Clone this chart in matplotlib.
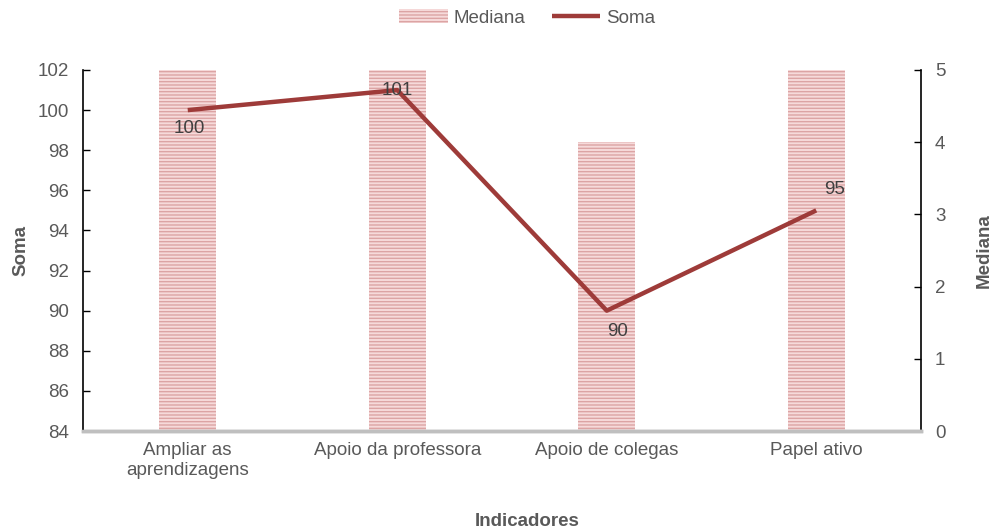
import numpy as np
import matplotlib.pyplot as plt

plt.rcParams['font.family'] = ['Liberation Sans', 'DejaVu Sans']
plt.rcParams['hatch.linewidth'] = 1.0

categorias = ['Ampliar as\naprendizagens', 'Apoio da professora', 'Apoio de colegas', 'Papel ativo']
soma = [100, 101, 90, 95]
mediana = [5, 5, 4, 5]

cinza = '#595959'
vermelho = '#9e3b39'
fs = 13.5

fig = plt.figure(figsize=(9.95, 5.3), dpi=100)
ax = fig.add_axes([83/995, 1 - 431/530, (921-83)/995, (431-70)/530])
ax2 = ax.twinx()

x = np.arange(len(categorias))

# barras no eixo da direita (Mediana)
barras = ax2.bar(x, mediana, width=0.27, color='#f6dada', edgecolor='#dca4a4',
                 hatch='-----', linewidth=0, label='Mediana', zorder=1)

# linha no eixo da esquerda (Soma)
ax.set_zorder(ax2.get_zorder() + 1)
ax.patch.set_visible(False)
linha, = ax.plot(x, soma, color=vermelho, linewidth=3.2, label='Soma', solid_capstyle='butt')

# rotulos dos dados
desloc = [(1, -13), (0, 0), (8, -15), (13, 15)]
for xi, v, (dx, dy) in zip(x, soma, desloc):
    ax.annotate(str(v), (xi, v), xytext=(dx, dy), textcoords='offset points',
                ha='center', va='center', fontsize=fs, color='#404040')

ax.set_xlim(-0.5, 3.5)
ax.set_ylim(84, 102)
ax.set_yticks(np.arange(84, 103, 2))
ax2.set_ylim(0, 5)
ax2.set_yticks(np.arange(0, 6, 1))

ax.set_xticks(x)
ax.set_xticklabels(categorias)

for a in (ax, ax2):
    a.tick_params(axis='y', direction='in', length=5, width=1, colors='black',
                  labelcolor=cinza, labelsize=fs, pad=10)
    a.spines['top'].set_visible(False)
    a.spines['bottom'].set_color('#bfbfbf')
    a.spines['bottom'].set_linewidth(2.5)
ax.tick_params(axis='x', length=0, labelcolor=cinza, labelsize=fs, pad=8)
ax.spines['right'].set_visible(False)
ax2.spines['left'].set_visible(False)
ax.spines['left'].set_linewidth(1.2)
ax2.spines['right'].set_linewidth(1.2)

ax.set_ylabel('Soma', fontsize=fs, fontweight='bold', color=cinza, labelpad=6)
ax2.set_ylabel('Mediana', fontsize=fs, fontweight='bold', color=cinza,
               rotation=90, labelpad=22)
fig.text(527/995, 1 - 521/530, 'Indicadores', ha='center', va='center',
         fontsize=fs, fontweight='bold', color=cinza)

fig.legend([barras, linha], ['Mediana', 'Soma'], loc='center', ncol=2,
           bbox_to_anchor=(527/995, 1 - 18/530), frameon=False, fontsize=fs,
           labelcolor=cinza, handlelength=2.6, handletextpad=0.3, columnspacing=1.4,
           handleheight=0.7)

fig.savefig('out.png', dpi=100)
